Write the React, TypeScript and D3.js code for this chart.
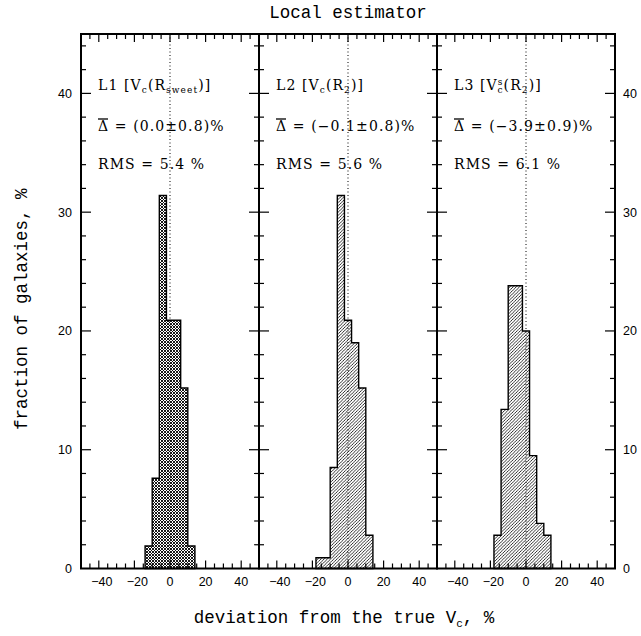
import React from 'react';
import * as d3 from 'd3';

const W = 641, H = 636;
const binEdges = [-18, -14, -10, -6, -2, 2, 6, 10, 14];
const l1Values = [0, 1.9, 7.6, 31.4, 20.9, 20.9, 15.2, 1.9];
const l2Values = [0.9, 0.9, 8.5, 31.4, 20.9, 19.0, 15.2, 2.8];
const l3Values = [2.8, 13.4, 23.8, 23.8, 20.0, 9.5, 3.8, 2.8];
const seriesValues = [l1Values, l2Values, l3Values];
const panelNames = ['L1', 'L2', 'L3'];
const meanLabels = ['(0.0±0.8)%', '(−0.1±0.8)%', '(−3.9±0.9)%'];
const rmsLabels = ['RMS = 5.4 %', 'RMS = 5.6 %', 'RMS = 6.1 %'];
const xTickLabels = [-40, -20, 0, 20, 40];
const yTickLabels = [0, 10, 20, 30, 40];
const titleText = 'Local estimator';
const xLabelText = 'deviation from the true V';
const yLabelText = 'fraction of galaxies, %';

const LEFT = 81, RIGHT = 615, TOP = 34, BOTTOM = 568.5;
const PW = (RIGHT - LEFT) / 3;

const y = d3.scaleLinear().domain([0, 45]).range([BOTTOM, TOP]);

const serif = "'DejaVu Serif', serif";
const mono = "'Liberation Mono', monospace";
const sans = "'Liberation Sans', sans-serif";

function histPoints(values: number[]): [number, number][] {
  const idx = values.map((v, i) => (v > 0 ? i : -1)).filter((i) => i >= 0);
  const i0 = idx[0], i1 = idx[idx.length - 1];
  const pts: [number, number][] = [[binEdges[i0], 0]];
  for (let i = i0; i <= i1; i++) {
    pts.push([binEdges[i], values[i]]);
    pts.push([binEdges[i + 1], values[i]]);
  }
  pts.push([binEdges[i1 + 1], 0]);
  return pts;
}

function PanelLabel({ k, x0 }: { k: number; x0: number }) {
  const tx = x0 + 17;
  const ls = 1.1;
  const common = { fontFamily: serif, fontSize: 14, letterSpacing: ls, fill: '#000' } as any;
  let line1: React.ReactNode;
  if (k === 0) {
    line1 = (
      <text x={tx} y={90} {...common}>
        L1 [V<tspan fontSize={9} dy={3}>c</tspan><tspan dy={-3}>(R</tspan>
        <tspan fontSize={9} dy={3}>sweet</tspan><tspan dy={-3}>)]</tspan>
      </text>
    );
  } else if (k === 1) {
    line1 = (
      <text x={tx} y={90} {...common}>
        L2 [V<tspan fontSize={9} dy={3}>c</tspan><tspan dy={-3}>(R</tspan>
        <tspan fontSize={9} dy={3}>2</tspan><tspan dy={-3}>)]</tspan>
      </text>
    );
  } else {
    line1 = (
      <text x={tx} y={90} {...common}>
        L3 [V<tspan fontSize={9} dy={-5}>s</tspan><tspan fontSize={9} dx={-6} dy={8}>c</tspan>
        <tspan dy={-3}>(R</tspan>
        <tspan fontSize={9} dy={3}>2</tspan><tspan dy={-3}>)]</tspan>
      </text>
    );
  }
  return (
    <g>
      {line1}
      <line x1={tx} x2={tx + 10} y1={119} y2={119} stroke="#000" strokeWidth={1.3} />
      <text x={tx} y={131} {...common}>
        Δ = {meanLabels[k]}
      </text>
      <text x={tx} y={169} {...common}>
        {rmsLabels[k]}
      </text>
    </g>
  );
}

export default function App() {
  const panels = [0, 1, 2].map((k) => {
    const x0 = LEFT + k * PW;
    const x = d3.scaleLinear().domain([-50, 50]).range([x0, x0 + PW]);
    return { k, x0, x };
  });

  const xMinor = d3.range(-45, 50, 5);
  const yMinor = d3.range(2, 45, 2);

  return (
    <svg width={W} height={H} style={{ display: 'block', position: 'absolute', left: 0, top: 0 }}>
      <defs>
        <pattern id="cross" patternUnits="userSpaceOnUse" width={3} height={3}>
          <rect width={3} height={3} fill="#fff" />
          <path d="M-1,1 L1,-1 M0,3 L3,0 M2,4 L4,2" stroke="#000" strokeWidth={0.9} />
          <path d="M-1,2 L1,4 M0,0 L3,3 M2,-1 L4,1" stroke="#000" strokeWidth={0.9} />
        </pattern>
        <pattern id="hatch" patternUnits="userSpaceOnUse" width={3.2} height={3.2}>
          <rect width={3.2} height={3.2} fill="#fff" />
          <path d="M-0.8,0.8 L0.8,-0.8 M0,3.2 L3.2,0 M2.4,4 L4,2.4" stroke="#000" strokeWidth={0.8} />
        </pattern>
      </defs>
      <rect width={W} height={H} fill="#fff" />

      {panels.map(({ k, x0, x }) => {
        const line = d3
          .line<[number, number]>()
          .x((d) => x(d[0]))
          .y((d) => y(d[1]));
        const d = line(histPoints(seriesValues[k])) + 'Z';
        return (
          <g key={k}>
            <path d={d} fill={k === 0 ? 'url(#cross)' : 'url(#hatch)'} stroke="#000" strokeWidth={1.4} />
            <line x1={x(0)} x2={x(0)} y1={TOP} y2={BOTTOM} stroke="#000" strokeWidth={1} strokeDasharray="1,2.5" />
            {xMinor.map((t) => {
              const len = t % 20 === 0 ? 8 : 5;
              return (
                <g key={t}>
                  <line x1={x(t)} x2={x(t)} y1={BOTTOM} y2={BOTTOM - len} stroke="#000" strokeWidth={1.2} />
                  <line x1={x(t)} x2={x(t)} y1={TOP} y2={TOP + len} stroke="#000" strokeWidth={1.2} />
                </g>
              );
            })}
            {yMinor.map((t) => {
              const len = t % 10 === 0 ? 10 : 5;
              return (
                <g key={t}>
                  <line x1={x0} x2={x0 + len} y1={y(t)} y2={y(t)} stroke="#000" strokeWidth={1.2} />
                  <line x1={x0 + PW} x2={x0 + PW - len} y1={y(t)} y2={y(t)} stroke="#000" strokeWidth={1.2} />
                </g>
              );
            })}
            {xTickLabels.map((t) => (
              <text
                key={t}
                x={x(t) + (t < 0 ? 3 : 0)}
                y={586}
                textAnchor="middle"
                fontFamily={sans}
                fontSize={12.5}
              >
                {t < 0 ? '−' + Math.abs(t) : String(t)}
              </text>
            ))}
            <rect x={x0} y={TOP} width={PW} height={BOTTOM - TOP} fill="none" stroke="#000" strokeWidth={2} />
            <PanelLabel k={k} x0={x0} />
          </g>
        );
      })}

      {yTickLabels.map((t) => (
        <g key={t}>
          <text x={72} y={y(t)} dy="0.35em" textAnchor="end" fontFamily={sans} fontSize={12.5}>
            {t}
          </text>
          <text x={623} y={y(t)} dy="0.35em" textAnchor="start" fontFamily={sans} fontSize={12.5}>
            {t}
          </text>
        </g>
      ))}

      <text x={(LEFT + RIGHT) / 2} y={18} textAnchor="middle" fontFamily={mono} fontSize={17.5}>
        {titleText}
      </text>
      <text x={(LEFT + RIGHT) / 2 - 4} y={623} textAnchor="middle" fontFamily={mono} fontSize={17.5}>
        {xLabelText}
        <tspan fontSize={11} dy={4}>c</tspan>
        <tspan dy={-4}>, %</tspan>
      </text>
      <text
        transform={`translate(27,${(TOP + BOTTOM) / 2 + 8}) rotate(-90)`}
        textAnchor="middle"
        fontFamily={mono}
        fontSize={17.5}
      >
        {yLabelText}
      </text>
    </svg>
  );
}
